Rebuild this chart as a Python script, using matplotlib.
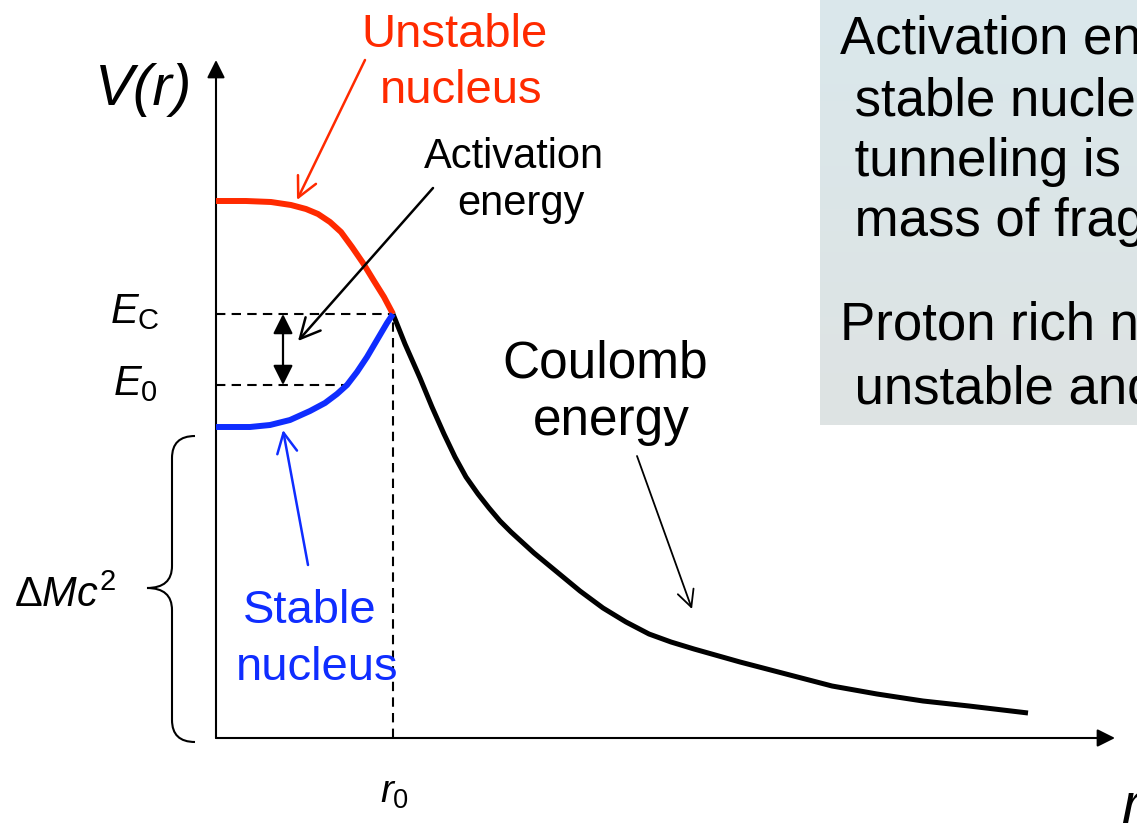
import numpy as np
import matplotlib
matplotlib.use('Agg')
import matplotlib.pyplot as plt
from matplotlib.path import Path
from matplotlib.patches import PathPatch
from matplotlib.colors import LinearSegmentedColormap

plt.rcParams['font.family'] = ['Liberation Sans', 'DejaVu Sans']
plt.rcParams['mathtext.fontset'] = 'custom'
plt.rcParams['mathtext.rm'] = 'Liberation Sans'
plt.rcParams['mathtext.it'] = 'Liberation Sans:italic'

# potential curves, r and V in sketch units (origin at the axes corner)
red_r = [0.00, 0.30, 0.55, 0.75, 0.90, 1.02, 1.14, 1.25, 1.36, 1.47, 1.58, 1.68, 1.77]
red_v = [5.37, 5.37, 5.36, 5.33, 5.29, 5.24, 5.16, 5.06, 4.91, 4.75, 4.57, 4.41, 4.24]

blue_r = [0.00, 0.34, 0.54, 0.74, 0.94, 1.09, 1.21, 1.31, 1.41, 1.51, 1.61, 1.71, 1.77]
blue_v = [3.11, 3.11, 3.13, 3.18, 3.27, 3.35, 3.44, 3.53, 3.66, 3.81, 3.98, 4.15, 4.24]

coul_r = [1.77, 1.89, 2.04, 2.16, 2.28, 2.39, 2.50, 2.62, 2.73, 2.84, 2.95,
          3.18, 3.41, 3.64, 3.87, 4.10, 4.33, 4.55, 4.78, 5.24, 5.70, 6.16,
          6.61, 7.07, 7.53, 8.12]
coul_v = [4.24, 3.94, 3.60, 3.31, 3.04, 2.81, 2.61, 2.44, 2.30, 2.17, 2.06,
          1.85, 1.66, 1.47, 1.30, 1.16, 1.04, 0.96, 0.89, 0.76, 0.64, 0.52,
          0.44, 0.37, 0.32, 0.25]

r0 = 1.77
E_C = 4.24
E_0 = 3.53
r_blue_E0 = 1.31

red = '#ff2a00'
blue = '#0f2dff'

fig = plt.figure(figsize=(11.37, 8.26), dpi=100)
ax = fig.add_axes([0, 0, 1, 1])
ax.axis('off')

# text panel on the right (slide text runs off the edge) ~~~~~~~~~~~~~~~~~
cmap = LinearSegmentedColormap.from_list('panel', ['#dae8ec', '#dee3e3'])
ax.imshow(np.linspace(0, 1, 100).reshape(-1, 1), cmap=cmap, aspect='auto',
          extent=[6.04, 9.30, 3.13, 7.45], zorder=0)
panel_lines = ['Activation en', ' stable nucle', ' tunneling is',
               ' mass of frag', 'Proton rich n', ' unstable and']
panel_y = [6.84, 6.23, 5.62, 5.02, 3.98, 3.35]
for txt, yy in zip(panel_lines, panel_y):
    ax.text(6.24, yy, txt, fontsize=38, va='baseline', ha='left',
            clip_on=True, zorder=1)

# axes arrows ~~~~~~~~~~~~~~~~~~~~~~~~~~~~~~~~~~~~~~~~~~~~~~~~~~~~~~~~~~~~
axis_kw = dict(arrowstyle='-|>', color='k', lw=1.5, mutation_scale=27,
               shrinkA=0, shrinkB=0)
ax.annotate('', xy=(0, 6.78), xytext=(0, 0), arrowprops=axis_kw)
ax.annotate('', xy=(8.99, 0), xytext=(0, 0), arrowprops=axis_kw)

# dashed guides
dash = (0, (4.5, 3))
ax.plot([0, r0], [E_C, E_C], color='k', lw=1.5, ls=dash, zorder=2)
ax.plot([0, r_blue_E0], [E_0, E_0], color='k', lw=1.5, ls=dash, zorder=2)
ax.plot([r0, r0], [0, E_C], color='k', lw=1.5, ls=dash, zorder=2)

# curves
ax.plot(coul_r, coul_v, color='k', lw=3.6, solid_capstyle='butt',
        solid_joinstyle='round', zorder=3)
ax.plot(red_r, red_v, color=red, lw=4.3, solid_capstyle='butt',
        solid_joinstyle='round', zorder=3)
ax.plot(blue_r, blue_v, color=blue, lw=4.3, solid_capstyle='butt',
        solid_joinstyle='round', zorder=3)

# pointer arrows
def pointer(tail, tip, colr, lw=1.8, ms=36):
    ax.annotate('', xy=tip, xytext=tail,
                arrowprops=dict(arrowstyle='->', color=colr, lw=lw,
                                mutation_scale=ms, shrinkA=0, shrinkB=0),
                zorder=4)

pointer((1.49, 6.78), (0.81, 5.38), red)
pointer((2.17, 5.50), (0.82, 3.97), 'k')
pointer((0.92, 1.73), (0.67, 3.08), blue)
pointer((4.21, 2.82), (4.76, 1.29), 'k', lw=1.3, ms=30)

ax.annotate('', xy=(0.67, E_C), xytext=(0.67, E_0),
            arrowprops=dict(arrowstyle='<|-|>', color='k', lw=1.6,
                            mutation_scale=30, shrinkA=0, shrinkB=0))

# brace for Delta M c^2
xe, xm, xt = -0.21, -0.44, -0.69
yt, yb, ym, rr = 3.02, -0.04, 1.50, 0.22
verts = [(xe, yt), (xm, yt), (xm, yt - rr), (xm, ym + rr), (xm, ym), (xt, ym),
         (xm, ym), (xm, ym - rr), (xm, yb + rr), (xm, yb), (xe, yb)]
codes = [Path.MOVETO, Path.CURVE3, Path.CURVE3, Path.LINETO, Path.CURVE3,
         Path.CURVE3, Path.CURVE3, Path.CURVE3, Path.LINETO, Path.CURVE3,
         Path.CURVE3]
ax.add_patch(PathPatch(Path(verts, codes), fill=False, lw=1.5, color='k'))

# labels ~~~~~~~~~~~~~~~~~~~~~~~~~~~~~~~~~~~~~~~~~~~~~~~~~~~~~~~~~~~~~~~~~~
ax.text(-1.21, 6.33, 'V(r)', fontsize=42, style='italic', va='baseline')
ax.text(9.05, -0.85, 'r', fontsize=42, style='italic', va='baseline',
        clip_on=True)
ax.text(-1.06, 4.15, r'$E_\mathrm{C}$', fontsize=30, va='baseline')
ax.text(-1.03, 3.43, r'$E_0$', fontsize=30, va='baseline')
ax.text(-2.02, 1.31, r'$\Delta Mc^2$', fontsize=30, va='baseline')
ax.text(1.64, -0.65, r'$r_0$', fontsize=28, va='baseline')

ax.text(2.39, 6.91, 'Unstable', fontsize=34, color=red, ha='center', va='baseline')
ax.text(2.45, 6.35, 'nucleus', fontsize=34, color=red, ha='center', va='baseline')
ax.text(2.98, 5.70, 'Activation', fontsize=30, ha='center', va='baseline')
ax.text(3.05, 5.23, 'energy', fontsize=30, ha='center', va='baseline')
ax.text(3.89, 3.61, 'Coulomb', fontsize=37, ha='center', va='baseline')
ax.text(3.95, 3.03, 'energy', fontsize=37, ha='center', va='baseline')
ax.text(0.94, 1.15, 'Stable', fontsize=34, color=blue, ha='center', va='baseline')
ax.text(1.01, 0.58, 'nucleus', fontsize=34, color=blue, ha='center', va='baseline')

ax.set_xlim(-2.16, 9.21)
ax.set_ylim(-0.88, 7.38)

fig.savefig('out.png', dpi=100)
